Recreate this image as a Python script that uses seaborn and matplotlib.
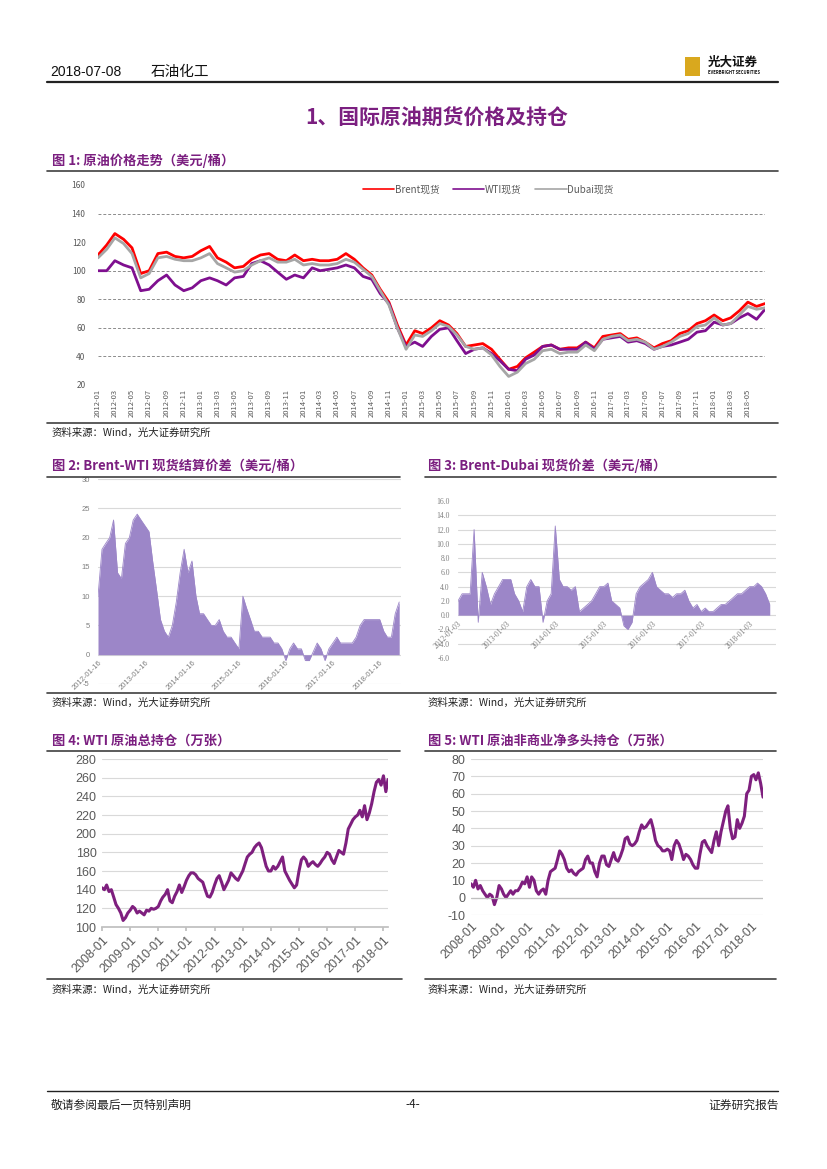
import numpy as np
import pandas as pd
import matplotlib
matplotlib.use("Agg")
import matplotlib.pyplot as plt
import matplotlib.dates as mdates
from matplotlib.lines import Line2D
from matplotlib.patches import Rectangle
import seaborn as sns

sns.set_theme(style="white")
plt.rcParams['font.family'] = ['Noto Sans CJK SC', 'DejaVu Sans']
plt.rcParams['axes.unicode_minus'] = False

# ---------------- data ----------------
# fig 1: monthly spot prices, 2012-01 .. 2018-07 (USD/bbl)
brent = [111, 118, 126, 122, 116, 98, 100, 112, 113, 110, 109, 110,
         114, 117, 109, 106, 102, 103, 108, 111, 112, 108, 107, 111,
         107, 108, 107, 107, 108, 112, 108, 102, 97, 87, 78, 62,
         48, 58, 56, 60, 65, 62, 56, 47, 48, 49, 45, 38,
         31, 33, 39, 43, 47, 48, 45, 46, 46, 50, 46, 54,
         55, 56, 52, 53, 50, 46, 49, 51, 56, 58, 63, 65,
         69, 65, 67, 72, 78, 75, 77]
wti = [100, 100, 107, 104, 102, 86, 87, 93, 97, 90, 86, 88,
       93, 95, 93, 90, 95, 96, 105, 107, 104, 99, 94, 97,
       95, 102, 100, 101, 102, 104, 102, 96, 94, 84, 77, 60,
       47, 50, 47, 54, 59, 60, 51, 42, 45, 46, 42, 37,
       31, 30, 38, 41, 47, 48, 45, 45, 45, 50, 45, 52,
       53, 54, 50, 51, 49, 45, 47, 48, 50, 52, 57, 58,
       64, 62, 63, 67, 70, 66, 73]
dubai = [109, 115, 123, 119, 112, 95, 98, 109, 110, 108, 107, 107,
         109, 112, 105, 102, 99, 100, 104, 107, 109, 106, 106, 108,
         104, 105, 104, 104, 105, 108, 106, 101, 96, 86, 76, 60,
         45, 55, 54, 58, 63, 61, 55, 47, 45, 46, 41, 33,
         26, 29, 35, 38, 44, 45, 42, 43, 43, 48, 44, 52,
         54, 55, 51, 52, 50, 45, 47, 50, 54, 56, 61, 62,
         67, 62, 63, 69, 75, 73, 74]
names1 = ['Brent现货', 'WTI现货', 'Dubai现货']
colors1 = ['#ff0000', '#7f0f8f', '#a6a6a6']

# fig 2: Brent-WTI spread, monthly 2012-01 .. 2018-06
brent_wti = [10, 18, 19, 20, 23, 14, 13, 19, 20, 23, 24, 23,
             22, 21, 16, 11, 6, 4, 3, 5, 9, 14, 18, 14,
             16, 10, 7, 7, 6, 5, 5, 6, 4, 3, 3, 2,
             1, 10, 8, 6, 4, 4, 3, 3, 3, 2, 2, 1,
             -1, 1, 2, 1, 1, -1, -1, 0.5, 2, 1, -1, 1,
             2, 3, 2, 2, 2, 2, 3, 5, 6, 6, 6, 6,
             6, 4, 3, 3, 7, 9]

# fig 3: Brent-Dubai spread, monthly 2012-01 .. 2018-06
brent_dubai = [2, 3, 3, 3, 12, -1, 6, 4, 1.5, 3, 4, 5,
               5, 5, 3, 2, 0.5, 4, 5, 4, 4, -1, 2, 3,
               12.5, 5, 4, 4, 3.5, 4, 0.5, 1, 1.5, 2, 3, 4,
               4, 4.5, 2, 1.5, 1, -1.5, -2, -1, 3, 4, 4.5, 5,
               6, 4, 3.5, 3, 3, 2.5, 3, 3, 3.5, 2, 1, 1.5,
               0.5, 1, 0.5, 0.5, 1, 1.5, 1.5, 2, 2.5, 3, 3, 3.5,
               4, 4, 4.5, 4, 3, 1.5]

# fig 4: WTI total open interest (10k contracts), monthly 2008-01 .. 2018-03
wti_oi = [142, 140, 145, 138, 140, 132, 124, 120, 115, 107, 110, 115,
          118, 122, 120, 115, 117, 115, 113, 118, 117, 120, 119, 120,
          122, 128, 132, 135, 140, 128, 126, 133, 138, 145, 137, 143,
          150, 155, 158, 158, 156, 152, 150, 148, 140, 133, 132, 137,
          145, 152, 155, 148, 140, 145, 150, 158, 155, 152, 150, 155,
          160, 168, 175, 178, 180, 185, 188, 190, 185, 175, 165, 160,
          160, 165, 162, 165, 170, 175, 160, 155, 150, 146, 142, 145,
          160, 172, 175, 172, 165, 168, 170, 167, 165, 168, 172, 175,
          180, 178, 172, 168, 175, 182, 180, 178, 190, 205, 210, 215,
          218, 220, 225, 218, 230, 215, 222, 232, 245, 255, 258, 252,
          262, 245, 258]

# fig 5: WTI non-commercial net long (10k contracts), monthly 2008-01 .. 2018-05
wti_net = [8, 6, 10, 5, 7, 4, 2, 0, 2, 1, -4, 0,
           7, 5, 2, 0, 2, 4, 2, 4, 4, 6, 9, 8,
           12, 6, 12, 10, 4, 2, 4, 5, 2, 10, 15, 16,
           17, 22, 27, 25, 22, 17, 15, 16, 14, 13, 15, 16,
           17, 22, 24, 20, 20, 15, 12, 20, 24, 24, 19, 18,
           22, 26, 22, 21, 24, 28, 34, 35, 31, 30, 31, 33,
           38, 42, 40, 41, 43, 45, 40, 33, 30, 29, 27, 27,
           28, 27, 22, 30, 33, 31, 27, 22, 25, 24, 22, 19,
           17, 17, 25, 32, 33, 30, 28, 26, 33, 38, 30, 38,
           44, 50, 53, 40, 34, 35, 45, 40, 43, 47, 60, 62,
           70, 71, 68, 72, 66, 58]

purple = '#7b1f80'
fill_c = '#9c86c8'
W, H = 827, 1169

fig = plt.figure(figsize=(8.27, 11.69), dpi=100)


def box(x0, y0, x1, y1):
    return [x0 / W, 1 - y1 / H, (x1 - x0) / W, (y1 - y0) / H]


def hline(x0, x1, y, lw=1.2, color='#404040'):
    fig.add_artist(Line2D([x0 / W, x1 / W], [1 - y / H, 1 - y / H], lw=lw, color=color))


def txt(x, y, s, **kw):
    kw.setdefault('va', 'center')
    fig.text(x / W, 1 - y / H, s, **kw)


# ---------------- page furniture ----------------
txt(50, 72, '2018-07-08', fontsize=10, family=['Liberation Sans', 'DejaVu Sans'], color='#111111')
txt(151, 72, '石油化工', fontsize=10.5, color='#111111')
hline(47, 778, 82, lw=1.6, color='#222222')
fig.add_artist(Rectangle((685 / W, 1 - 76 / H), 15 / W, 19 / H, transform=fig.transFigure,
                         color='#d9a81e', lw=0))
txt(708, 62, '光大证券', fontsize=9, fontweight='bold', color='#111111')
txt(708, 72, 'EVERBRIGHT SECURITIES', fontsize=3, fontweight='bold', color='#111111')

txt(437, 118, '1、国际原油期货价格及持仓', fontsize=15, fontweight='bold', color=purple, ha='center')

src = '资料来源：Wind，光大证券研究所'

# ---------------- fig 1 ----------------
txt(52, 161, '图 1: 原油价格走势（美元/桶）', fontsize=9.5, fontweight='bold', color=purple)
hline(47, 778, 171)
hline(47, 778, 423)
txt(52, 433, src, fontsize=7.5, color='#222222')

d1 = pd.date_range('2012-01-01', periods=len(brent), freq='MS')
df1 = pd.DataFrame({'date': d1, names1[0]: brent, names1[1]: wti, names1[2]: dubai})
df1 = df1.melt('date', var_name='品种', value_name='价格')
ax1 = fig.add_axes(box(98, 185, 765, 385))
for v in [40, 60, 80, 100, 140]:
    ax1.axhline(v, color='#8c8c8c', lw=0.7, ls=(0, (3, 2)), zorder=0)
sns.lineplot(data=df1, x='date', y='价格', hue='品种', hue_order=names1, palette=colors1,
             lw=2.0, ax=ax1, legend=False)
ax1.set_xlim(d1[0], d1[-1])
ax1.set_ylim(20, 160)
ax1.set_yticks(range(20, 161, 20))
ax1.set_xticks(pd.date_range('2012-01-01', '2018-05-01', freq='2MS'))
ax1.xaxis.set_major_formatter(mdates.DateFormatter('%Y-%m'))
ax1.tick_params(axis='y', length=0, labelsize=6, labelcolor='#595959', pad=9)
ax1.tick_params(axis='x', length=0, labelsize=5.5, labelcolor='#595959', rotation=90, pad=3)
ax1.set_xlabel('')
ax1.set_ylabel('')
for s in ax1.spines.values():
    s.set_visible(False)
handles = [Line2D([], [], color=c, lw=1.2) for c in colors1]
ax1.legend(handles, names1, loc='upper center', bbox_to_anchor=(0.585, 1.045), ncol=3,
           frameon=False, fontsize=7, handlelength=3.2, columnspacing=1.4, handletextpad=0.1,
           labelcolor='#595959')

# ---------------- fig 2 & 3 (spread areas) ----------------
def spread_panel(rect, dates, vals, lo, hi, step, grid_vals, xlim, ticks, fmt, family):
    ax = fig.add_axes(box(*rect))
    for v in grid_vals:
        ax.axhline(v, color='#d9d9d9', lw=0.8, zorder=0)
    ax.fill_between(dates, 0, vals, color=fill_c, lw=0, zorder=2)
    sns.lineplot(x=dates, y=vals, color=fill_c, lw=0.6, ax=ax, zorder=3)
    ax.set_xlabel('')
    ax.set_ylabel('')
    ax.set_ylim(lo, hi)
    ax.set_yticks(np.arange(lo, hi + step / 2, step))
    ax.yaxis.set_major_formatter(matplotlib.ticker.StrMethodFormatter(fmt))
    ax.set_xlim(*xlim)
    ax.set_xticks(ticks)
    ax.xaxis.set_major_formatter(mdates.DateFormatter('%Y-%m-%d'))
    ax.spines['bottom'].set_position(('data', 0))
    for s in ax.spines.values():
        s.set_visible(False)
    ax.tick_params(axis='y', length=0, labelsize=5.5, labelcolor='#7f7f7f', pad=6)
    ax.tick_params(axis='x', length=0, labelsize=5.5, labelcolor='#7f7f7f', pad=3)
    for lab in ax.get_yticklabels() + ax.get_xticklabels():
        lab.set_family(family)
    for lab in ax.get_xticklabels():
        lab.set_rotation(45)
        lab.set_ha('right')
        lab.set_rotation_mode('anchor')
    return ax


txt(52, 466, '图 2: Brent-WTI 现货结算价差（美元/桶）', fontsize=9.5, fontweight='bold', color=purple)
hline(47, 400, 477)
d2 = pd.date_range('2012-01-01', periods=len(brent_wti), freq='MS') + pd.Timedelta(days=15)
spread_panel((98, 479, 401, 684), d2, brent_wti, -5, 30, 5, range(-5, 31, 5),
             (pd.Timestamp('2012-01-16'), pd.Timestamp('2018-06-30')),
             pd.to_datetime([f'{y}-01-16' for y in range(2012, 2019)]), '{x:.0f}',
             ['Liberation Sans', 'DejaVu Sans'])

txt(428, 466, '图 3: Brent-Dubai 现货价差（美元/桶）', fontsize=9.5, fontweight='bold', color=purple)
hline(425, 776, 477)
d3 = pd.date_range('2012-01-01', periods=len(brent_dubai), freq='MS') + pd.Timedelta(days=2)
spread_panel((458, 501, 776, 658), d3, brent_dubai, -6, 16, 2, range(-4, 15, 2),
             (pd.Timestamp('2012-01-03'), pd.Timestamp('2018-07-20')),
             pd.to_datetime([f'{y}-01-03' for y in range(2012, 2019)]), '{x:.1f}',
             ['Liberation Serif', 'DejaVu Serif'])

hline(47, 776, 693)
txt(52, 703, src, fontsize=7.5, color='#222222')
txt(428, 703, src, fontsize=7.5, color='#222222')

# ---------------- fig 4 & 5 (positions) ----------------
def position_panel(rect, dates, vals, lo, hi, step, xend):
    ax = fig.add_axes(box(*rect))
    ax.grid(axis='y', color='#d9d9d9', lw=0.8)
    ax.set_axisbelow(True)
    sns.lineplot(x=dates, y=vals, color='#7e1f7e', lw=2.2, ax=ax)
    ax.set_xlabel('')
    ax.set_ylabel('')
    ax.set_ylim(lo, hi)
    ax.set_yticks(range(lo, hi + 1, step))
    ax.set_xlim(pd.Timestamp('2008-01-01'), xend)
    ax.set_xticks(pd.date_range('2008-01-01', '2018-01-01', freq='YS'))
    ax.xaxis.set_major_formatter(mdates.DateFormatter('%Y-%m'))
    for s in ['left', 'right', 'top']:
        ax.spines[s].set_visible(False)
    ax.tick_params(axis='y', length=0, labelsize=9, labelcolor='#595959', pad=4)
    ax.tick_params(axis='x', labelsize=9, labelcolor='#595959', pad=2)
    for lab in ax.get_yticklabels() + ax.get_xticklabels():
        lab.set_family(['Liberation Sans', 'DejaVu Sans'])
    for lab in ax.get_xticklabels():
        lab.set_rotation(45)
        lab.set_ha('right')
        lab.set_rotation_mode('anchor')
    return ax


txt(52, 741, '图 4: WTI 原油总持仓（万张）', fontsize=9.5, fontweight='bold', color=purple)
hline(47, 400, 751)
d4 = pd.date_range('2008-01-01', periods=len(wti_oi), freq='MS')
ax4 = position_panel((102, 759, 388, 927), d4, wti_oi, 100, 280, 20, d4[-1])
ax4.spines['bottom'].set_color('#bfbfbf')
ax4.tick_params(axis='x', bottom=True, length=3, color='#bfbfbf')

txt(428, 741, '图 5: WTI 原油非商业净多头持仓（万张）', fontsize=9.5, fontweight='bold', color=purple)
hline(425, 776, 751)
d5 = pd.date_range('2008-01-01', periods=len(wti_net), freq='MS')
ax5 = position_panel((471, 759, 763, 915), d5, wti_net, -10, 80, 10, d5[-1])
ax5.spines['bottom'].set_visible(False)
ax5.axhline(0, color='#bfbfbf', lw=0.9)
ax5.tick_params(axis='x', length=0, pad=4)

hline(47, 402, 979)
hline(425, 776, 979)
txt(52, 990, src, fontsize=7.5, color='#222222')
txt(428, 990, src, fontsize=7.5, color='#222222')

# ---------------- footer ----------------
hline(47, 778, 1091, lw=1.0, color='#222222')
txt(51, 1105, '敬请参阅最后一页特别声明', fontsize=8.5, color='#222222')
txt(413, 1105, '-4-', fontsize=8.5, color='#222222', ha='center')
txt(779, 1105, '证券研究报告', fontsize=8.5, color='#222222', ha='right')

fig.savefig('out.png', dpi=100)
